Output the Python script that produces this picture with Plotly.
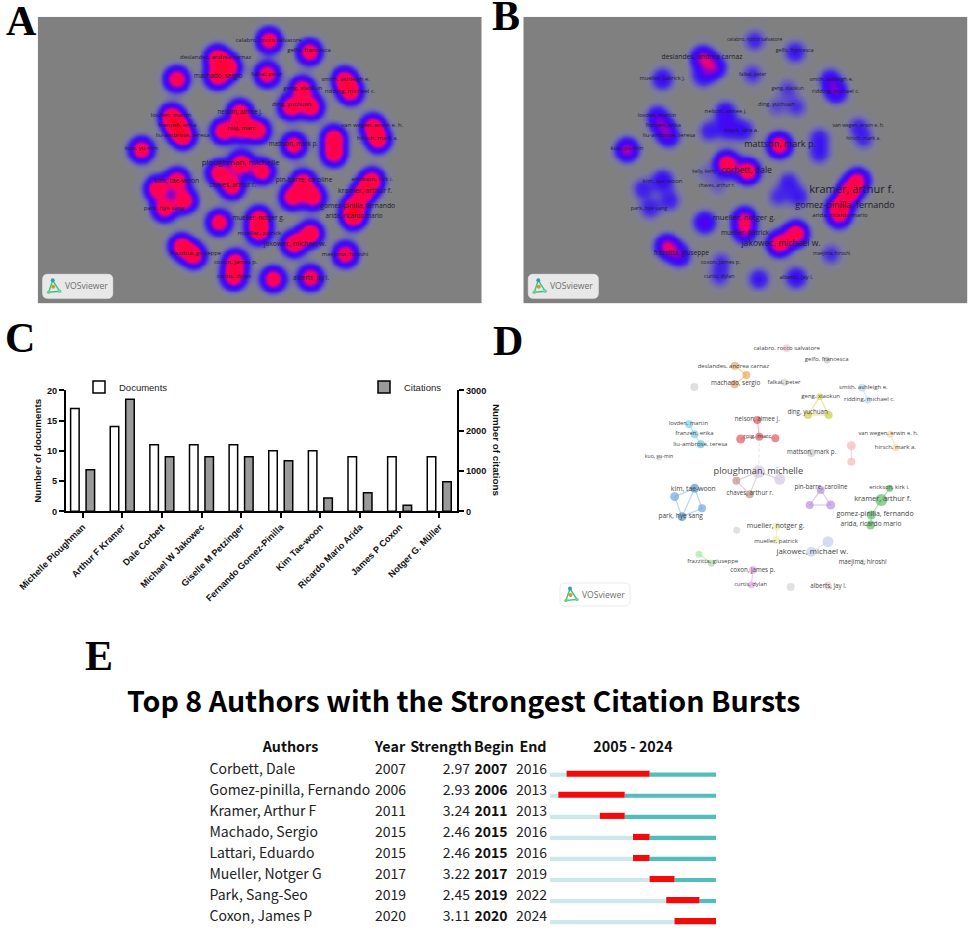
import numpy as np
import plotly.graph_objects as go

W, H = 972, 933

# ---------- shared map layout (node positions) ----------
node_x = [806,927,650,685,650,529,800,905,870,932,1032,1050,513,530,548,423,718,724,668,772,880,1000,1000,1117,1133,
          722,655,785,695,530,470,552,492,908,875,938,1115,1090,1060,1058,656,775,775,880,930,1035,543,580,705,700,818,930]
node_y = [120,155,172,200,228,236,222,265,320,320,238,275,348,378,408,448,335,385,392,390,434,412,460,378,418,
          490,517,513,558,540,565,600,625,545,590,590,540,575,620,650,666,655,695,730,700,762,738,765,785,830,836,832]
weight_a = [1,1,1,1,1,1,1,1,1,1,1,1,1,1,1,1,1,1,1,1,1,1,1,1,1,
            1.1,1,1,1,1,1,1,1,1,1,1,1,1,1,1,1,1,1,1.1,1.1,1,1,1,1,1,1,1]
weight_b = [.25,.3,.62,.5,.3,.35,.22,.18,.15,.2,.35,.45,.35,.35,.4,.65,.35,.3,.25,.3,1.0,.25,.25,.22,.2,
            1.0,.1,1.0,.12,.35,.25,.25,.25,.25,.2,.25,.8,1.0,1.0,.55,.45,.7,.55,1.0,1.0,.22,.7,.45,.2,.2,.3,.35]
node_color = ["#f2c4d2","#c8c8c8","#eaa665","#f0a850","#eea060","#d0d0d0","#d0d0d0","#d8d860","#cfcf50","#c4cf40",
              "#b0e0ec","#b0d8ec","#80d4e4","#80d0e0","#60c4dc","#d8d8d8","#e05a60","#e05a60","#e05a60","#e05a60",
              "#cccccc","#f6b8b8","#f6b8b8","#f8d8a8","#f8d8a8","#d4c8e4","#c09088","#d4c8e4","#c09088","#5b94cc",
              "#70a8dc","#70a8dc","#5b94cc","#b090dc","#b890e0","#b890e0","#50b060","#60bc68","#60bc68","#60bc68",
              "#d4d4d4","#eeeeaa","#eeeeaa","#c0d0f0","#c0d0f0","#dddddd","#a8e8a0","#a8e0a0","#e8a8e8","#e8a8e8",
              "#d4d4d4","#eecccc"]
node_size = [8,7,8,8,8,8,7,7,8,8,8,7,8,8,8,6,8,8,9,8,8,9,8,7,7,13,8,11,8,9,9,8,9,8,8,9,7,12,9,9,7,8,8,10,11,6,7,7,8,7,8,8]
edge_from = [3,4,8,8,9,17,18,18,26,26,26,27,30,30,30,31,32,34,34,35,37,38,39,13,14,22,24,11,42,44,47,49]
edge_to   = [4,5,9,10,10,18,19,20,27,28,29,29,31,32,33,33,33,35,36,36,38,39,40,14,15,23,25,12,43,45,48,50]
edge_color = ["#f5d4a8","#f5d4a8","#e8e8a0","#e8e8a0","#e8e8a0","#f2b8b8","#f2b8b8","#f2b8b8","#e2d4de","#e2d4de","#e2d4de","#e2d4de",
              "#b8d8f0","#b8d8f0","#b8d8f0","#b8d8f0","#b8d8f0","#dcc8f0","#dcc8f0","#dcc8f0","#b0e0b0","#b0e0b0","#b0e0b0",
              "#c0e8f0","#c0e8f0","#f8d8d8","#f8e8d0","#d8f0f4","#f0f0c8","#dce4f6","#c8f0c0","#f0c8f0"]

# ---------- labels ----------
names_a = ["calabro, rocco salvatore","gelfo, francesca","deslandes, andrea carnaz","machado, sergio","falkai, peter",
           "geng, xiaokun","smith, ashleigh e.","ridding, michael c.","ding, yuchuan","nelson, aimee j.","lovden, martin",
           "franzen, erika","liu-ambrose, teresa","roig, marc","van wegen, erwin e. h.","hirsch, mark a.","mattson, mark p.",
           "kuo, yu-min","ploughman, michelle","kim, tae-woon","chaves, arthur r.","pin-barre, caroline","erickson, kirk i.",
           "kramer, arthur f.","gomez-pinilla, fernando","arida, ricardo mario","park, hye sang","mueller, notger g.",
           "mueller, patrick","jakowec, michael w.","maejima, hiroshi","frazzitta, giuseppe","coxon, james p.","curtis, dylan",
           "alberts, jay l."]
a_label_x = [806,927,647,655,800,908,1037,1050,875,720,513,532,548,724,1117,1133,880,424,722,530,698,912,1117,1095,1073,1062,492,775,778,885,1035,587,707,702,933]
a_label_y = [121,152,173,228,224,265,238,274,313,336,346,376,408,385,378,417,434,447,490,545,557,540,540,574,618,648,625,655,700,733,763,761,788,830,834]
a_label_s = [6,6,6,6.3,5.6,6,6,6,6,6.2,6,6,6,6,6,6,6.2,6,8,6.8,6.2,6.6,6,7,6.8,6.2,6,6.3,6,6.8,6,6,6,6,6.2]

names_b = ["calabro, rocco salvatore","gelfo, francesca","deslandes, andrea carnaz","mueller, patrick j.","falkai, peter",
           "geng, xiaokun","smith, ashleigh e.","ridding, michael c.","ding, yuchuan","nelson, aimee j.","lovden, martin",
           "franzen, erika","liu-ambrose, teresa","boyd, lara a.","van wegen, erwin e. h.","hirsch, mark a.","mattson, mark p.",
           "kuo, yu-min","kelly, kerry","corbett, dale","kim, tae-woon","chaves, arthur r.","kramer, arthur f.",
           "gomez-pinilla, fernando","arida, ricardo mario","park, hye sang","mueller, notger g.","mueller, patrick",
           "jakowec, michael w.","maejima, hiroshi","frazzitta, giuseppe","coxon, james p.","curtis, dylan","alberts, jay l."]
b_label_x = [794,914,636,517,788,893,1024,1037,859,707,501,520,537,755,1105,1120,870,411,643,770,518,680,1085,1065,1050,477,762,765,873,1025,574,692,688,919]
b_label_y = [120,152,173,236,224,265,238,274,313,336,346,376,408,391,378,416,434,446,514,512,544,557,572,618,648,625,655,700,733,762,761,788,831,834]
b_label_s = [5,5.2,6.8,5.7,5,5,5.4,5.6,5.6,5.8,5.7,5.5,5.8,6,5,5,9,6,4.8,8.6,6,4.8,11,9,6,5.4,7.6,6.6,8.6,4.8,6.5,5.5,5.4,5.8]

names_d = list(names_a)
d_label_x = [710,830,550,557,702,812,940,958,773,622,415,433,451,622,1015,1036,785,327,625,430,600,813,1018,998,975,963,392,677,678,787,938,488,608,602,835]
d_label_y = [55,87,108,160,158,199,172,208,246,269,280,311,342,320,312,351,368,381,424,478,491,473,473,508,552,583,560,590,633,667,698,695,721,764,769]
d_label_s = [6,6,6,6.4,6,6,6,6,6.2,6.2,5.8,6,6,6,5.8,6,6.2,5.2,9.2,6.8,6.2,6.2,5.8,7.4,7,6.6,6.6,7,6,7.8,6.2,6,6.2,5.8,6.2]

# ---------- panel C ----------
authors_c = ["Michelle Ploughman","Arthur F Kramer","Dale Corbett","Michael W Jakowec","Giselle M Petzinger",
             "Fernando Gomez-Pinilla","Kim Tae-woon","Ricardo Mario Arida","James P Coxon","Notger G. Müller"]
documents = [17,14,11,11,11,10,10,9,9,9]
citations = [1033,2777,1355,1355,1355,1256,330,463,149,735]

# ---------- panel E ----------
burst_authors = ["Corbett, Dale","Gomez-pinilla, Fernando","Kramer, Arthur F","Machado, Sergio","Lattari, Eduardo",
                 "Mueller, Notger G","Park, Sang-Seo","Coxon, James P"]
burst_year = [2007,2006,2011,2015,2015,2017,2019,2020]
burst_strength = ["2.97","2.93","3.24","2.46","2.46","3.22","2.45","3.11"]
burst_begin = [2007,2006,2011,2015,2015,2017,2019,2020]
burst_end = [2016,2013,2013,2016,2016,2019,2022,2024]
first_year, last_year = 2005, 2024


def dx(p0, p1):
    return [p0 / W, p1 / W]


def dy(p0, p1):
    return [1 - p1 / H, 1 - p0 / H]


hidden = dict(visible=False, fixedrange=True)
fig = go.Figure()
nx = np.array(node_x, float)
ny = np.array(node_y, float)
GREY = "#808080"
ZMAX = 1.8
scale = [[0, GREY], [0.05 / ZMAX, "#7e7e94"], [0.12 / ZMAX, "#6a60b8"], [0.2 / ZMAX, "#4a30e0"], [0.3 / ZMAX, "#3a10f5"],
         [0.44 / ZMAX, "#5000f0"], [0.6 / ZMAX, "#9400c4"], [0.7 / ZMAX, "#e00088"], [0.8 / ZMAX, "#ff0058"],
         [1.3 / ZMAX, "#ff0040"], [1, "#ff0010"]]


def density(weights, xr, yr, xa, ya):
    gx = np.linspace(xr[0], xr[1], 240)
    gy = np.linspace(yr[0], yr[1], 155)
    xx, yy = np.meshgrid(gx, gy)
    z = np.zeros_like(xx)
    for px, py, w in zip(nx, ny, weights):
        z += w * np.exp(-((xx - px) ** 2 + (yy - py) ** 2) / (2 * 23.0 ** 2))
    fig.add_trace(go.Heatmap(x=gx, y=gy, z=np.round(z, 3), zmin=0, zmax=ZMAX, zsmooth="best", colorscale=scale,
                             showscale=False, hoverinfo="skip", xaxis=xa, yaxis=ya))


def labels(names, xs, ys, sizes, xa, ya, color="#1c1c2c"):
    fig.add_trace(go.Scatter(x=xs, y=ys, text=names, mode="text", textposition="middle center",
                             textfont=dict(family="Open Sans", size=sizes, color=color),
                             showlegend=False, hoverinfo="skip", xaxis=xa, yaxis=ya))


# A
range_a = ([113, 1445], [50, 910])
density(weight_a, *range_a, "x", "y")
labels(names_a, a_label_x, a_label_y, a_label_s, "x", "y")
# B (same map, shifted 13 zoom units in the crop)
B_SHIFT = 13
range_b = ([113, 1446], [50, 910])
density(weight_b, *range_b, "x2", "y2")
labels(names_b, [v + B_SHIFT for v in b_label_x], b_label_y, b_label_s, "x2", "y2")
# D network
for a, b, c in zip(edge_from, edge_to, edge_color):
    fig.add_trace(go.Scatter(x=[node_x[a - 1], node_x[b - 1]], y=[node_y[a - 1], node_y[b - 1]], mode="lines",
                             line=dict(color=c, width=1.2), showlegend=False, hoverinfo="skip", xaxis="x5", yaxis="y5"))
fig.add_trace(go.Scatter(x=[node_x[17], node_x[25]], y=[node_y[17], node_y[25]], mode="lines",
                         line=dict(color="#e8e0e0", width=1, dash="dot"), showlegend=False, hoverinfo="skip",
                         xaxis="x5", yaxis="y5"))
fig.add_trace(go.Scatter(x=node_x, y=node_y, mode="markers", marker=dict(color=node_color, size=node_size, line_width=0),
                         showlegend=False, hoverinfo="skip", xaxis="x5", yaxis="y5"))
D_DX, D_DY = 96, 65
labels(names_d, [v + D_DX for v in d_label_x], [v + D_DY for v in d_label_y], d_label_s, "x5", "y5", "#444444")

# C bars
fig.add_trace(go.Bar(x=authors_c, y=documents, name="Documents", width=0.215, offset=-0.305,
                     marker=dict(color="white", line=dict(color="black", width=1.5)), xaxis="x3", yaxis="y3",
                     legend="legend", hoverinfo="skip"))
fig.add_trace(go.Bar(x=authors_c, y=citations, name="Citations", width=0.215, offset=0.085,
                     marker=dict(color="#9a9a9a", line=dict(color="black", width=1.5)), xaxis="x3", yaxis="y4",
                     legend="legend2", hoverinfo="skip"))

# E burst strips
rows = list(range(len(burst_authors)))
fig.add_trace(go.Bar(y=rows, x=[b - first_year for b in burst_begin], base=first_year, orientation="h", width=0.2,
                     marker=dict(color="#cbe9e9", line_width=0), showlegend=False, hoverinfo="skip", xaxis="x6", yaxis="y6"))
fig.add_trace(go.Bar(y=rows, x=[last_year - e for e in burst_end], base=[e + 1 for e in burst_end], orientation="h", width=0.2,
                     marker=dict(color="#52bdbd", line_width=0), showlegend=False, hoverinfo="skip", xaxis="x6", yaxis="y6"))
fig.add_trace(go.Bar(y=rows, x=[e + 1 - b for b, e in zip(burst_begin, burst_end)], base=burst_begin, orientation="h", width=0.29,
                     offset=-0.19, marker=dict(color="#f50a0a", line_width=0), showlegend=False, hoverinfo="skip", xaxis="x6", yaxis="y6"))

# E table text, on a page-wide axis (pixels of the sheet)
row_px = [770, 791, 812, 833.5, 854.5, 875.5, 896.3, 917.3]
TXT = "#222222"
CJK = "Noto Sans CJK SC"


def column(vals, x, pos, bold=False):
    fig.add_trace(go.Scatter(x=[x] * len(vals), y=row_px, text=[str(v) for v in vals], mode="text", textposition=pos,
                             textfont=dict(family=CJK, size=14, color="#111111" if bold else TXT, weight=700 if bold else 400),
                             showlegend=False, hoverinfo="skip", xaxis="x7", yaxis="y7"))


column(burst_authors, 209.5, "middle right")
column(burst_year, 375, "middle right")
column(burst_strength, 470, "middle left")
column(burst_begin, 474.5, "middle right", True)
column(burst_end, 516, "middle right")

headers = ["Authors", "Year", "Strength", "Begin", "End", f"{first_year} - {last_year}"]
header_x = [290.5, 390, 441, 494, 533, 633]
fig.add_trace(go.Scatter(x=header_x, y=[748.7] * 6, text=headers, mode="text", textposition="middle center",
                         textfont=dict(family=CJK, size=14.3, color="#111111", weight=700),
                         showlegend=False, hoverinfo="skip", xaxis="x7", yaxis="y7"))

# ---------- axes ----------
tickf = dict(family="Liberation Sans", size=9.2, color="#111111", weight=700)
titlef = dict(family="Liberation Sans", size=9.8, color="#111111", weight=700)
layout = dict(
    width=W, height=H, margin=dict(l=0, r=0, t=0, b=0, pad=0), autosize=False,
    paper_bgcolor="white", plot_bgcolor="rgba(0,0,0,0)", barmode="overlay",
    xaxis=dict(domain=dx(37.7, 481.7), range=range_a[0], **hidden),
    yaxis=dict(domain=dy(16.7, 303.3), range=range_a[1][::-1], **hidden),
    xaxis2=dict(domain=dx(523.3, 967.7), range=range_b[0], **hidden),
    yaxis2=dict(domain=dy(16.7, 303.3), range=range_b[1][::-1], **hidden),
    xaxis3=dict(domain=dx(65.7, 457.3), range=[-0.429, 9.453], type="category", anchor="y3", showline=True, linecolor="black",
                linewidth=1.5, ticks="outside", ticklen=5, tickwidth=1.5, tickcolor="black", tickangle=-45, tickfont=tickf,
                showgrid=False, zeroline=False, fixedrange=True, categoryorder="array", categoryarray=authors_c, automargin=False),
    yaxis3=dict(domain=dy(390.3, 511.3), range=[0, 20], tickvals=[0, 5, 10, 15, 20], anchor="x3", showline=True, linecolor="black",
                linewidth=1.5, ticks="outside", ticklen=5, tickwidth=1.5, tickcolor="black", tickfont=tickf, showgrid=False,
                zeroline=False, fixedrange=True, title=dict(text="Number of documents", standoff=3, font=titlef), automargin=False),
    yaxis4=dict(domain=dy(390.3, 511.3), range=[0, 3000], tickvals=[0, 1000, 2000, 3000], anchor="x3", overlaying="y3", side="right",
                showline=True, linecolor="black", linewidth=1.5, ticks="outside", ticklen=5, tickwidth=1.5, tickcolor="black",
                tickfont=tickf, showgrid=False, zeroline=False, fixedrange=True, automargin=False),
    xaxis5=dict(domain=dx(550, 930), range=[96, 1236], **hidden),
    yaxis5=dict(domain=dy(330, 610), range=[905, 65], **hidden),
    xaxis6=dict(domain=dx(550, 716), range=[first_year, last_year + 1], anchor="y6", **hidden),
    yaxis6=dict(domain=dy(765, 933), range=[7.517, -0.461], anchor="x6", **hidden),
    xaxis7=dict(domain=[0, 1], range=[0, W], anchor="y7", **hidden),
    yaxis7=dict(domain=[0, 1], range=[H, 0], anchor="x7", **hidden),
    legend=dict(x=79 / W, y=1 - 387 / H, xanchor="left", yanchor="middle", bgcolor="rgba(0,0,0,0)",
                font=dict(family="Liberation Sans", size=9.5, color="#222222")),
    legend2=dict(x=364 / W, y=1 - 387 / H, xanchor="left", yanchor="middle", bgcolor="rgba(0,0,0,0)",
                 font=dict(family="Liberation Sans", size=9.5, color="#222222")),
)

# ---------- letters, title, VOSviewer badges ----------
annotations = [dict(text="Number of citations", x=497 / W, y=1 - 450 / H, xref="paper", yref="paper", showarrow=False,
                    textangle=90, xanchor="center", yanchor="middle", font=titlef)]
for s, x, y in [("A", 21, 21), ("B", 506, 16), ("C", 20, 338), ("D", 508, 341), ("E", 99, 656)]:
    annotations.append(dict(text=s, x=x / W, y=1 - y / H, xref="paper", yref="paper", showarrow=False, xanchor="center",
                            yanchor="middle", font=dict(family="Liberation Serif", size=42, color="black", weight=700)))
annotations.append(dict(text="Top 8 Authors with the Strongest Citation Bursts", x=463 / W, y=1 - 699.5 / H, xref="paper",
                        yref="paper", showarrow=False, xanchor="center", yanchor="middle",
                        font=dict(family=CJK, size=28.6, color="black", weight=700)))

shapes = []


def badge(x0, y0, x1, y1, fill, line, icon_x):
    r = 5
    p = (f"M{(x0 + r) / W},{1 - y0 / H} L{(x1 - r) / W},{1 - y0 / H} Q{x1 / W},{1 - y0 / H} {x1 / W},{1 - (y0 + r) / H} "
         f"L{x1 / W},{1 - (y1 - r) / H} Q{x1 / W},{1 - y1 / H} {(x1 - r) / W},{1 - y1 / H} L{(x0 + r) / W},{1 - y1 / H} "
         f"Q{x0 / W},{1 - y1 / H} {x0 / W},{1 - (y1 - r) / H} L{x0 / W},{1 - (y0 + r) / H} Q{x0 / W},{1 - y0 / H} {(x0 + r) / W},{1 - y0 / H} Z")
    shapes.append(dict(type="path", path=p, xref="paper", yref="paper", fillcolor=fill, line=dict(color=line, width=0.8), layer="above"))
    ym = (y0 + y1) / 2
    ax, ay, bx, by, cx, cy = icon_x + 4, ym - 6, icon_x, ym + 6, icon_x + 11, ym + 5
    tri = (f"M{ax / W},{1 - ay / H} L{bx / W},{1 - by / H} L{cx / W},{1 - cy / H} Z")
    shapes.append(dict(type="path", path=tri, xref="paper", yref="paper", fillcolor="rgba(0,0,0,0)",
                       line=dict(color="#3cc08c", width=1.4), layer="above"))
    for (u, v, c, rad) in [(ax, ay, "#2f9fb0", 2), (bx, by, "#6fd06f", 1.8), (cx, cy, "#6fd0a0", 1.8), (icon_x + 4.5, ym + 0.5, "#c8a020", 2)]:
        shapes.append(dict(type="circle", xref="paper", yref="paper", x0=(u - rad) / W, x1=(u + rad) / W,
                           y0=1 - (v + rad) / H, y1=1 - (v - rad) / H, fillcolor=c, line_width=0, layer="above"))
    annotations.append(dict(text="VOSviewer", x=(icon_x + 14) / W, y=1 - ym / H, xref="paper", yref="paper", showarrow=False,
                            xanchor="left", yanchor="middle", font=dict(family="Open Sans", size=8.6, color="#6e6e6e")))


badge(42.7, 274.3, 112.7, 298.3, "#e8e8e8", "#e8e8e8", 48.7)
badge(528.3, 274.3, 598.3, 298.3, "#e8e8e8", "#e8e8e8", 534.3)
badge(560, 583, 630, 606, "#ffffff", "#e4e4e4", 566)

layout["annotations"] = annotations
layout["shapes"] = shapes
fig.update_layout(**layout)

fig.write_html("out.html", post_script="document.body.style.margin='0';", config=dict(displayModeBar=False))
